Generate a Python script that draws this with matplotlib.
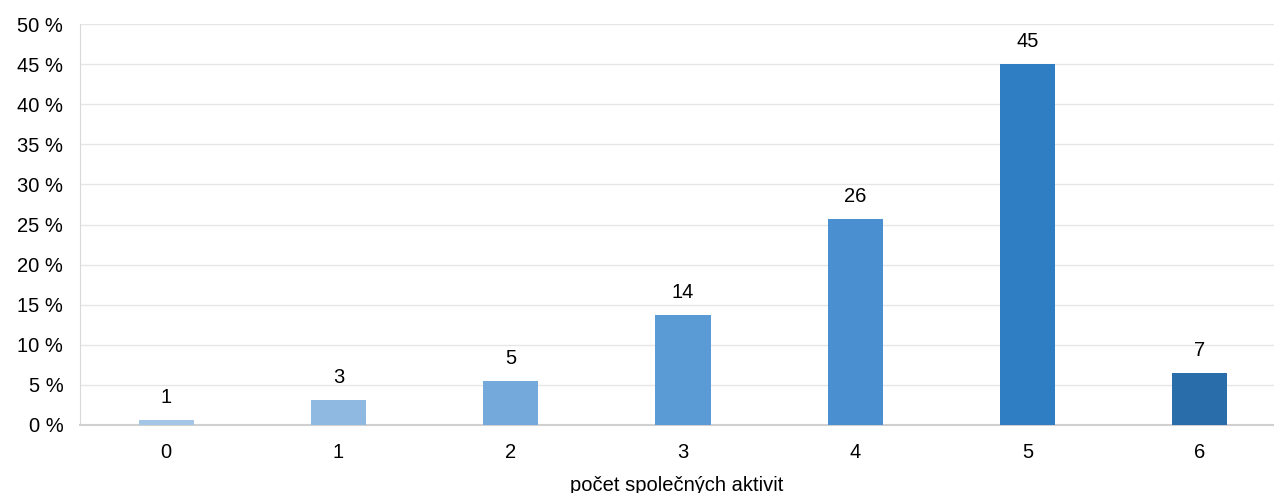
import matplotlib.pyplot as plt
from matplotlib.ticker import FuncFormatter

plt.rcParams['font.family'] = ['Liberation Sans', 'DejaVu Sans']

# podíl respondentů podle počtu společných aktivit (%)
aktivity = ['0', '1', '2', '3', '4', '5', '6']
podil = [0.6, 3.1, 5.5, 13.7, 25.7, 45.0, 6.5]
popisky = ['1', '3', '5', '14', '26', '45', '7']
barvy = ['#a3c6e6', '#8fb9e1', '#74a9db', '#5b9bd5', '#4a8fd0', '#2f7dc3', '#2a6dab']

fs = 14.5

fig = plt.figure(figsize=(12.74, 4.93), dpi=100)
ax = fig.add_axes([0.0628, 0.138, 0.9372, 0.813])

x = range(len(aktivity))
ax.bar(x, podil, width=0.32, color=barvy, zorder=3)
for i, (v, t) in enumerate(zip(podil, popisky)):
    ax.text(i, v + 1.6, t, ha='center', va='bottom', fontsize=fs, color='#000000')

ax.set_xlim(-0.5, 6.43)
ax.set_ylim(0, 50)
ax.set_yticks(range(0, 51, 5))
ax.yaxis.set_major_formatter(FuncFormatter(lambda v, p: '%d %%' % v))
ax.set_xticks(list(x))
ax.set_xticklabels(aktivity)
ax.tick_params(axis='both', length=0, labelsize=fs, colors='#000000')
ax.tick_params(axis='x', pad=13)
ax.tick_params(axis='y', pad=12)

ax.grid(axis='y', color='#e6e6e6', linewidth=1, zorder=0)
for s in ['top', 'right']:
    ax.spines[s].set_visible(False)
ax.spines['left'].set_color('#d9d9d9')
ax.spines['bottom'].set_color('#d0d0d0')
ax.spines['bottom'].set_linewidth(1.5)

ax.set_xlabel('počet společných aktivit', fontsize=fs, labelpad=10)

fig.savefig('out.png', dpi=100)
